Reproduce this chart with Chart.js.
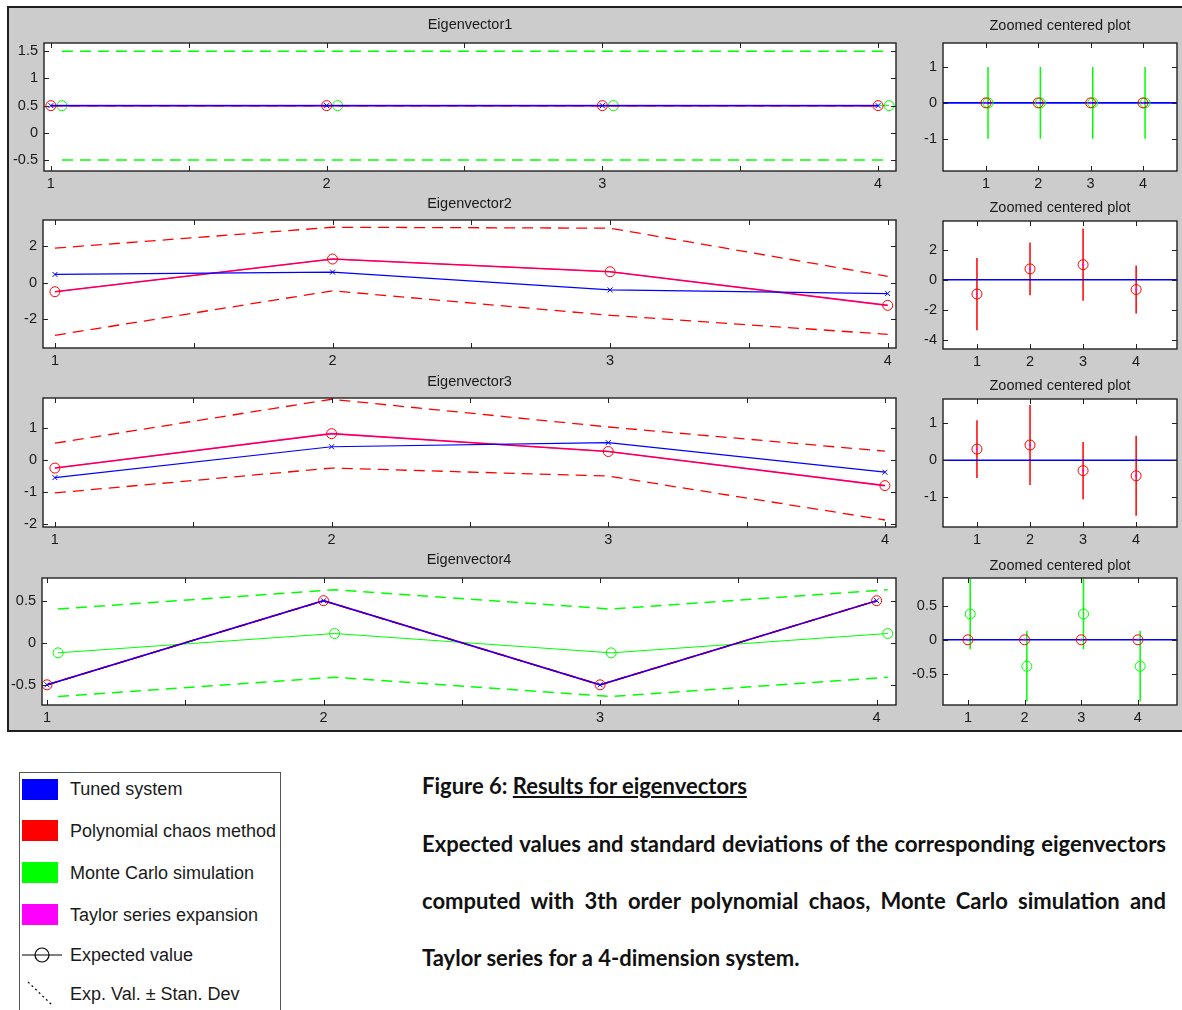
<!DOCTYPE html>
<html>
<head>
<meta charset="utf-8">
<title>Results for eigenvectors</title>
<script src="https://cdn.jsdelivr.net/npm/chart.js@4.4.0/dist/chart.umd.min.js"></script>
<style>
  html, body { margin: 0; padding: 0; background: #fff; overflow: hidden; }
  #page { position: relative; width: 1182px; height: 1010px; overflow: hidden;
          font-family: "Liberation Sans", Arial, sans-serif; color: #1a1a1a; }
  #panel { position: absolute; left: 7px; top: 6px; width: 1190px; height: 726px;
           background: #cccccc; border: 2px solid #1e1e1e; box-sizing: border-box; }
  #legendBox { position: absolute; left: 19px; top: 772px; width: 262px; height: 260px;
               border: 1px solid #555; box-sizing: border-box; }
  .sw { position: absolute; left: 22px; width: 36px; height: 21px; }
  .lt { position: absolute; left: 70px; font-size: 18px; line-height: 22px; white-space: nowrap; }
  .cap { position: absolute; left: 422px; width: 744px; font-family: Lato, "Open Sans", sans-serif;
         font-weight: 700; font-size: 22px; line-height: 26px; color: #111; }
  .just { text-align: justify; text-align-last: justify; }
</style>
</head>
<body>
<div id="page">
  <div id="panel"></div>

  <div id="legendBox"></div>
  <div class="sw" style="top:779px;background:#0000ff"></div>
  <div class="sw" style="top:820px;background:#ff0000"></div>
  <div class="sw" style="top:862px;background:#00ff00"></div>
  <div class="sw" style="top:904px;background:#ff00ff"></div>
  <svg style="position:absolute;left:0;top:940px" width="80" height="70">
    <line x1="22" y1="15" x2="62" y2="15" stroke="#000" stroke-width="1.2"/>
    <circle cx="42" cy="15" r="7" fill="none" stroke="#000" stroke-width="1.2"/>
    <line x1="28" y1="42" x2="52" y2="65" stroke="#000" stroke-width="1.2" stroke-dasharray="2,3"/>
  </svg>
  <div class="lt" style="top:778px">Tuned system</div>
  <div class="lt" style="top:820px">Polynomial chaos method</div>
  <div class="lt" style="top:862px">Monte Carlo simulation</div>
  <div class="lt" style="top:904px">Taylor series expansion</div>
  <div class="lt" style="top:944px">Expected value</div>
  <div class="lt" style="top:983px">Exp. Val. &plusmn; Stan. Dev</div>

  <div class="cap" style="top:773px">Figure 6: <u>Results for eigenvectors</u></div>
  <div class="cap just" style="top:831px">Expected values and standard deviations of the corresponding eigenvectors</div>
  <div class="cap just" style="top:888px">computed with 3th order polynomial chaos, Monte Carlo simulation and</div>
  <div class="cap" style="top:945px">Taylor series for a 4-dimension system.</div>
</div>

<script>
// eigenvector component index
const components = [1, 2, 3, 4];

// Eigenvector 1
const ev1Tuned  = [0.5, 0.5, 0.5, 0.5];
const ev1PcMean = [0.5, 0.5, 0.5, 0.5];
const ev1PcStd  = [0, 0, 0, 0];
const ev1McMean = [0.5, 0.5, 0.5, 0.5];
const ev1McStd  = [1, 1, 1, 1];
const ev1Taylor = [0.5, 0.5, 0.5, 0.5];

// Eigenvector 2 (no Monte Carlo curve drawn)
const ev2Tuned  = [0.45, 0.58, -0.4, -0.6];
const ev2PcMean = [-0.5, 1.3, 0.6, -1.25];
const ev2PcStd  = [2.4, 1.75, 2.4, 1.6];
const ev2Taylor = [-0.5, 1.3, 0.6, -1.25];

// Eigenvector 3 (no Monte Carlo curve drawn)
const ev3Tuned  = [-0.55, 0.42, 0.55, -0.38];
const ev3PcMean = [-0.25, 0.83, 0.27, -0.8];
const ev3PcStd  = [0.78, 1.08, 0.77, 1.08];
const ev3Taylor = [-0.25, 0.83, 0.27, -0.8];

// Eigenvector 4
const ev4Tuned  = [-0.5, 0.5, -0.5, 0.5];
const ev4PcMean = [-0.5, 0.5, -0.5, 0.5];
const ev4PcStd  = [0, 0, 0, 0];
const ev4McMean = [-0.12, 0.11, -0.12, 0.11];
const ev4McStd  = [0.52, 0.52, 0.52, 0.52];
const ev4Taylor = [-0.5, 0.5, -0.5, 0.5];

// tick labels
const mainXTicks = [1, 1.5, 2, 2.5, 3, 3.5, 4];
const zoomXTicks = [1, 2, 3, 4];
const ev1YTicks = [-0.5, 0, 0.5, 1, 1.5];
const ev2YTicks = [-2, 0, 2];
const ev3YTicks = [-2, -1, 0, 1];
const ev4YTicks = [-0.5, 0, 0.5];
const zoom1YTicks = [-1, 0, 1];
const zoom2YTicks = [-4, -2, 0, 2];
const zoom3YTicks = [-1, 0, 1];
const zoom4YTicks = [-0.5, 0, 0.5];

const MC_SHIFT = 0.04;   // Monte Carlo marks are drawn slightly to the right
const BLUE = '#0000ff', RED = '#ff0000', GREEN = '#00ff00', MAGENTA = '#ff00ff';
const TXT = '#1a1a1a';
const FONT = '"Liberation Sans", Arial, sans-serif';
const DASH = [11, 7];

const rows = [
  { title: 'Eigenvector1', tuned: ev1Tuned, pcMean: ev1PcMean, pcStd: ev1PcStd,
    mcMean: ev1McMean, mcStd: ev1McStd, taylor: ev1Taylor,
    main: { rect: [44, 43, 896, 171], x: [0.975, 4.065], y: [-0.7, 1.65], yTicks: ev1YTicks, gap: 18 },
    zoom: { rect: [943, 43, 1177, 171], x: [0.18, 4.65], y: [-1.9, 1.67], yTicks: zoom1YTicks, gap: 17 } },
  { title: 'Eigenvector2', tuned: ev2Tuned, pcMean: ev2PcMean, pcStd: ev2PcStd,
    mcMean: null, mcStd: null, taylor: ev2Taylor,
    main: { rect: [43, 220, 896, 348], x: [0.957, 4.03], y: [-3.6, 3.45], yTicks: ev2YTicks, gap: 16 },
    zoom: { rect: [943, 221, 1177, 349], x: [0.36, 4.77], y: [-4.6, 3.9], yTicks: zoom2YTicks, gap: 13 } },
  { title: 'Eigenvector3', tuned: ev3Tuned, pcMean: ev3PcMean, pcStd: ev3PcStd,
    mcMean: null, mcStd: null, taylor: ev3Taylor,
    main: { rect: [43, 398, 896, 527], x: [0.957, 4.04], y: [-2.1, 1.95], yTicks: ev3YTicks, gap: 16 },
    zoom: { rect: [943, 399, 1177, 527], x: [0.36, 4.77], y: [-1.8, 1.65], yTicks: zoom3YTicks, gap: 13 } },
  { title: 'Eigenvector4', tuned: ev4Tuned, pcMean: ev4PcMean, pcStd: ev4PcStd,
    mcMean: ev4McMean, mcStd: ev4McStd, taylor: ev4Taylor,
    main: { rect: [42, 578, 896, 705], x: [0.982, 4.07], y: [-0.74, 0.77], yTicks: ev4YTicks, gap: 18 },
    zoom: { rect: [943, 578, 1177, 705], x: [0.56, 4.69], y: [-0.96, 0.91], yTicks: zoom4YTicks, gap: 12 } },
];

const pts = (ys, dx = 0) => components.map((c, i) => ({ x: c + dx, y: ys[i] }));
const shift = (mean, std, k) => mean.map((m, i) => m + k * std[i]);
const centred = (vals, ref) => vals.map((v, i) => v - ref[i]);
const bars = (mean, std, dx = 0) => components.flatMap((c, i) => [
  { x: c + dx, y: mean[i] - std[i] }, { x: c + dx, y: mean[i] + std[i] }, { x: c + dx, y: null }
]);

function line(data, color, extra) {
  return Object.assign({
    data, borderColor: color, backgroundColor: color, borderWidth: 1,
    pointRadius: 0, pointHoverRadius: 0, pointBorderColor: color,
    pointBackgroundColor: 'rgba(0,0,0,0)', pointBorderWidth: 1, tension: 0, spanGaps: false,
  }, extra);
}

// MATLAB-like axes: white box, frame and inward tick marks
const matlabAxes = {
  id: 'matlabAxes',
  beforeDraw(chart) {
    const { ctx, chartArea: a } = chart;
    ctx.save();
    ctx.fillStyle = '#fff';
    ctx.fillRect(a.left, a.top, a.width, a.height);
    ctx.restore();
  },
  afterDatasetsDraw(chart) {
    const { ctx, chartArea: a, scales: { x, y } } = chart;
    ctx.save();
    ctx.strokeStyle = '#222';
    ctx.lineWidth = 1;
    ctx.beginPath();
    x.ticks.forEach(t => {
      const px = Math.round(x.getPixelForValue(t.value)) + 0.5;
      ctx.moveTo(px, a.bottom); ctx.lineTo(px, a.bottom - 5);
      ctx.moveTo(px, a.top); ctx.lineTo(px, a.top + 5);
    });
    y.ticks.forEach(t => {
      const py = Math.round(y.getPixelForValue(t.value)) + 0.5;
      ctx.moveTo(a.left, py); ctx.lineTo(a.left + 5, py);
      ctx.moveTo(a.right, py); ctx.lineTo(a.right - 5, py);
    });
    ctx.stroke();
    ctx.lineWidth = 1.4;
    ctx.strokeRect(a.left, a.top, a.width, a.height);
    ctx.restore();
  }
};

function makeChart(title, cfg, datasets, xTicks, xLabel, yw) {
  const [l, t, r, b] = cfg.rect;
  const XH = 22;
  const top = Math.round(t - cfg.gap - 10.7);
  const left = l - yw;
  const w = r - l + 2 * yw;
  const h = b - top + XH;
  const titleBox = t - top;

  const canvas = document.createElement('canvas');
  canvas.width = w; canvas.height = h;
  canvas.style.cssText = `position:absolute;left:${left}px;top:${top}px;width:${w}px;height:${h}px`;
  document.getElementById('page').appendChild(canvas);

  const tickFont = { family: FONT, size: 14.5 };
  new Chart(canvas, {
    type: 'line',
    data: { datasets },
    options: {
      responsive: false,
      animation: false,
      devicePixelRatio: 1,
      events: [],
      layout: { padding: 0 },
      plugins: {
        legend: { display: false },
        tooltip: { enabled: false },
        title: {
          display: true, text: title, color: TXT,
          font: { family: FONT, size: 14.5, weight: 'normal' },
          padding: { top: 2, bottom: titleBox - 2 - 17.4 }
        }
      },
      scales: {
        x: {
          type: 'linear', min: cfg.x[0], max: cfg.x[1], bounds: 'data',
          grid: { display: false, drawTicks: false }, border: { display: false },
          afterBuildTicks: s => { s.ticks = xTicks.map(v => ({ value: v })); },
          afterFit: s => { s.height = XH; },
          ticks: { autoSkip: false, maxRotation: 0, padding: 4, color: TXT, font: tickFont, callback: xLabel }
        },
        y: {
          type: 'linear', position: 'left', min: cfg.y[0], max: cfg.y[1], bounds: 'data',
          grid: { display: false, drawTicks: false }, border: { display: false },
          afterBuildTicks: s => { s.ticks = cfg.yTicks.map(v => ({ value: v })); },
          afterFit: s => { s.width = yw; },
          ticks: { padding: 6, color: TXT, font: tickFont, callback: v => String(v) }
        },
        yR: {
          type: 'linear', position: 'right', min: cfg.y[0], max: cfg.y[1],
          grid: { display: false, drawTicks: false }, border: { display: false },
          ticks: { display: false },
          afterFit: s => { s.width = yw; }
        }
      }
    },
    plugins: [matlabAxes]
  });
}

rows.forEach(row => {
  // full expected values with +/- one standard deviation
  const main = [
    line(pts(row.tuned), BLUE, { order: 0, pointStyle: 'crossRot', pointRadius: 3.5, borderWidth: 1.2 }),
    line(pts(row.pcMean), RED, { order: 1, pointStyle: 'circle', pointRadius: 5 }),
    line(pts(shift(row.pcMean, row.pcStd, 1)), RED, { order: 2, borderDash: DASH, borderWidth: 1.3 }),
    line(pts(shift(row.pcMean, row.pcStd, -1)), RED, { order: 2, borderDash: DASH, borderWidth: 1.3 }),
    line(pts(row.taylor), MAGENTA, { order: 3, borderWidth: 1.6 }),
  ];
  if (row.mcMean) {
    main.push(
      line(pts(row.mcMean, MC_SHIFT), GREEN, { order: 4, pointStyle: 'circle', pointRadius: 5 }),
      line(pts(shift(row.mcMean, row.mcStd, 1), MC_SHIFT), GREEN, { order: 5, borderDash: DASH, borderWidth: 1.5 }),
      line(pts(shift(row.mcMean, row.mcStd, -1), MC_SHIFT), GREEN, { order: 5, borderDash: DASH, borderWidth: 1.5 })
    );
  }
  makeChart(row.title, row.main, main, mainXTicks, v => Number.isInteger(v) ? String(v) : '', 42);

  // centred on the tuned system
  const pcC = centred(row.pcMean, row.tuned);
  const zoom = [
    line(pts(pcC), RED, { order: 0, showLine: false, pointStyle: 'circle', pointRadius: 5 }),
    line(pts(centred(row.taylor, row.tuned)), MAGENTA, { order: 0, showLine: false, pointStyle: 'circle', pointRadius: 0.8 }),
    line([{ x: row.zoom.x[0], y: 0 }, { x: row.zoom.x[1], y: 0 }], BLUE, { order: 2, borderWidth: 1.6 }),
    line(bars(pcC, row.pcStd), RED, { order: 3, borderWidth: 1.5 }),
  ];
  if (row.mcMean) {
    const mcC = centred(row.mcMean, row.tuned);
    zoom.push(
      line(pts(mcC, MC_SHIFT), GREEN, { order: 1, showLine: false, pointStyle: 'circle', pointRadius: 5 }),
      line(bars(mcC, row.mcStd, MC_SHIFT), GREEN, { order: 4, borderWidth: 1.5 })
    );
  }
  makeChart('Zoomed centered plot', row.zoom, zoom, zoomXTicks, v => String(v), 38);
});
</script>
</body>
</html>
